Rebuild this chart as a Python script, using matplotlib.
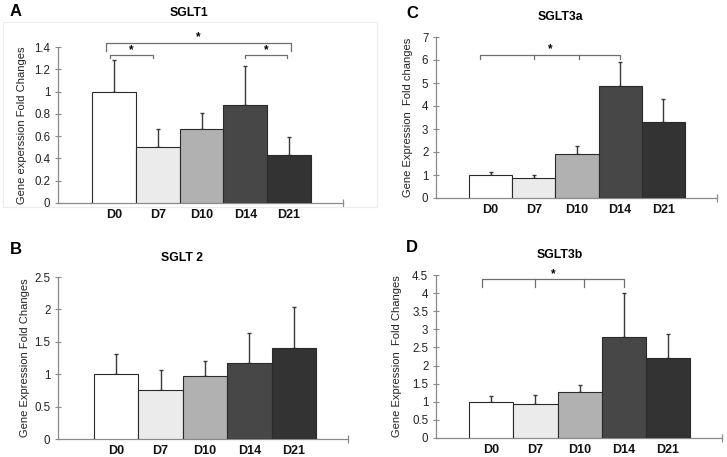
import matplotlib
matplotlib.use("Agg")
import matplotlib.pyplot as plt
from matplotlib.patches import Rectangle

plt.rcParams['font.family'] = ['Liberation Sans', 'DejaVu Sans']

categories = ["D0", "D7", "D10", "D14", "D21"]
bar_colors = ["#ffffff", "#ebebeb", "#b1b1b1", "#474747", "#333333"]

# Panel A: SGLT1
sglt1_mean = [1.00, 0.50, 0.66, 0.88, 0.43]
sglt1_err = [0.28, 0.16, 0.15, 0.35, 0.16]
# Panel B: SGLT 2
sglt2_mean = [1.00, 0.75, 0.975, 1.18, 1.41]
sglt2_err = [0.31, 0.32, 0.235, 0.45, 0.63]
# Panel C: SGLT3a
sglt3a_mean = [1.00, 0.86, 1.90, 4.85, 3.30]
sglt3a_err = [0.13, 0.15, 0.37, 1.05, 0.99]
# Panel D: SGLT3b
sglt3b_mean = [1.00, 0.93, 1.27, 2.80, 2.20]
sglt3b_err = [0.15, 0.25, 0.18, 1.19, 0.67]

yticks_A = [0, 0.2, 0.4, 0.6, 0.8, 1, 1.2, 1.4]
yticks_B = [0, 0.5, 1, 1.5, 2, 2.5]
yticks_C = [0, 1, 2, 3, 4, 5, 6, 7]
yticks_D = [0, 0.5, 1, 1.5, 2, 2.5, 3, 3.5, 4, 4.5]
ytick_labels_A = ["0", "0.2", "0.4", "0.6", "0.8", "1", "1.2", "1.4"]
ytick_labels_B = ["0", "0.5", "1", "1.5", "2", "2.5"]
ytick_labels_C = ["0", "1", "2", "3", "4", "5", "6", "7"]
ytick_labels_D = ["0", "0.5", "1", "1.5", "2", "2.5", "3", "3.5", "4", "4.5"]

W, H = 727, 457
fig = plt.figure(figsize=(W / 100, H / 100), dpi=100)

# faint frame around panel A
fig.add_artist(Rectangle((3 / W, 1 - 207 / H), 374 / W, 185 / H,
                         transform=fig.transFigure, fill=False,
                         edgecolor="#ececec", lw=0.8))

def px_axes(x0, y0, x1, y1):
    return fig.add_axes([x0 / W, 1 - y1 / H, (x1 - x0) / W, (y1 - y0) / H])

panels = [
    dict(box=(58, 47, 343, 203), xlim=(-1.276, 5.23), mean=sglt1_mean, err=sglt1_err,
         yt=yticks_A, ytl=ytick_labels_A, title="SGLT1", letter="A",
         ylabel="Gene experssion Fold Changes", title_xy=(189, 13), letter_xy=(16, 12),
         ylabel_x=27,
         brackets=[(-0.18, 4.05, 1.44, 1.36, [], 1.49), (-0.1, 0.9, 1.33, 1.30, [], 1.37),
                   (3.0, 3.95, 1.33, 1.30, [], 1.37)]),
    dict(box=(436, 37, 717, 198), xlim=(-1.264, 5.24), mean=sglt3a_mean, err=sglt3a_err,
         yt=yticks_C, ytl=ytick_labels_C, title="SGLT3a", letter="C",
         ylabel="Gene Expression  Fold changes", title_xy=(560, 17), letter_xy=(412, 13),
         ylabel_x=413,
         brackets=[(-0.25, 3.0, 6.23, 6.06, [1.0, 2.05], 6.45)]),
    dict(box=(58, 277, 348, 439), xlim=(-1.31, 5.22), mean=sglt2_mean, err=sglt2_err,
         yt=yticks_B, ytl=ytick_labels_B, title="SGLT 2", letter="B",
         ylabel="Gene Expression Fold Changes", title_xy=(182, 258), letter_xy=(16, 250),
         ylabel_x=30, brackets=[]),
    dict(box=(436, 275, 722, 438), xlim=(-1.25, 5.22), mean=sglt3b_mean, err=sglt3b_err,
         yt=yticks_D, ytl=ytick_labels_D, title="SGLT3b", letter="D",
         ylabel="Gene Expression  Fold Changes", title_xy=(560, 255), letter_xy=(412, 248),
         ylabel_x=402,
         brackets=[(-0.2, 3.0, 4.39, 4.18, [1.0, 2.1], 4.52)]),
]

spine_c = "#8a8a8a"
for p in panels:
    ax = px_axes(*p["box"])
    x = list(range(len(categories)))
    ax.bar(x, p["mean"], width=1.0, color=bar_colors, edgecolor="#2a2a2a",
           linewidth=0.8, zorder=3,
           yerr=[[0] * len(x), p["err"]], error_kw=dict(ecolor="#3a3a3a", elinewidth=1.0,
                                                          capsize=1.5, capthick=1.0, zorder=2))
    ax.set_xlim(*p["xlim"])
    ax.set_ylim(p["yt"][0], p["yt"][-1])
    ax.set_yticks(p["yt"])
    ax.set_yticklabels(p["ytl"], fontsize=8.3, color="#222222")
    ax.set_xticks(x)
    ax.set_xticklabels(categories, fontsize=9, fontweight="bold", color="#111111")
    ax.tick_params(axis="x", length=0, pad=4)
    ax.tick_params(axis="y", direction="inout", length=5, width=0.8, color=spine_c, pad=3)
    for s in ["top", "right"]:
        ax.spines[s].set_visible(False)
    for s in ["left", "bottom"]:
        ax.spines[s].set_color(spine_c)
        ax.spines[s].set_linewidth(0.9)
    ax.set_facecolor("none")
    # end tick on x axis
    ax.plot([p["xlim"][1]], [0], marker="|", markersize=6, color=spine_c,
            clip_on=False, mew=0.9)
    ax.set_ylabel(p["ylabel"], fontsize=8, color="#222222")
    ax.yaxis.set_label_coords((p["ylabel_x"] - p["box"][0]) / (p["box"][2] - p["box"][0]), 0.5)
    fig.text(p["title_xy"][0] / W, 1 - p["title_xy"][1] / H, p["title"], fontsize=8.8,
             fontweight="bold", ha="center", va="center")
    fig.text(p["letter_xy"][0] / W, 1 - p["letter_xy"][1] / H, p["letter"], fontsize=12,
             fontweight="bold", ha="center", va="center")
    for (x1, x2, yb, yd, mids, ys) in p["brackets"]:
        ax.plot([x1, x1, x2, x2], [yd, yb, yb, yd], color="#6e6e6e", lw=0.9, clip_on=False)
        for m in mids:
            ax.plot([m, m], [yb, yd], color="#6e6e6e", lw=0.9, clip_on=False)
        ax.text((x1 + x2) / 2, ys, "*", ha="center", va="center", fontsize=8.5,
                fontweight="bold", clip_on=False)

fig.savefig("out.png", dpi=100)
